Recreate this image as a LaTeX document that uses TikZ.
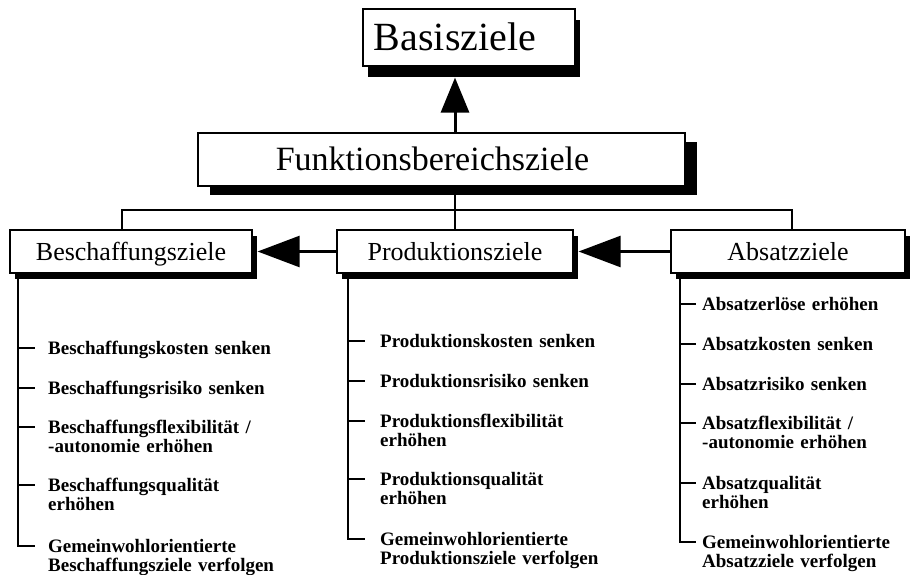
\documentclass[tikz,border=0pt]{standalone}
\usepackage{fontspec}
\setmainfont{Liberation Serif}
\usepackage{tikz}
\usetikzlibrary{arrows.meta, positioning, shadows, calc}

\begin{document}
\begin{tikzpicture}[x=1pt, y=-1pt, line join=miter,
	ziel/.style={draw, line width=1.2pt, fill=white, inner sep=0pt,
		minimum height=43pt, text height=17pt, text depth=0pt,
		font=\fontsize{26}{30}\selectfont},
	schatten/.style 2 args={drop shadow={shadow xshift=#1, shadow yshift=#2,
		fill=black, draw=none, opacity=1}},
	linie/.style={line width=2pt},
	pfeil/.style={line width=2.5pt, -{Triangle[length=42pt, width=31pt]}},
	punkt/.style={anchor=base west, inner sep=0pt, text width=260pt, align=left,
		font=\fontsize{19}{19.5}\selectfont\bfseries}]
	\useasboundingbox (0,0) rectangle (912,575);

	% oberste Ebene
	\node[ziel, schatten={5pt}{-11pt}, minimum width=212pt, minimum height=57pt,
		text height=26pt, font=\fontsize{40}{42}\selectfont] (basis) at (469,37.5) {\hspace*{-28pt}Basisziele};
	\node[ziel, schatten={12pt}{-9pt}, minimum width=487pt, minimum height=53pt,
		text height=22pt, font=\fontsize{34}{38}\selectfont] (funk) at (441.5,159.5) {\hspace*{-18pt}Funktionsbereichsziele};

	% Funktionsbereiche
	\node[ziel, schatten={5pt}{-6pt}, minimum width=242pt] (besch) at (131,251.5) {Beschaffungsziele};
	\node[ziel, schatten={5pt}{-6pt}, minimum width=236pt] (prod) at (455,251.5) {Produktionsziele};
	\node[ziel, schatten={5pt}{-6pt}, minimum width=234pt] (absatz) at (788,251.5) {Absatzziele};

	% Verbindungen
	\coordinate (kl) at (122,210);
	\coordinate (kr) at (792,210);
	\draw[linie] (besch.north -| kl) -- (kl) -- (kr) -- (absatz.north -| kr);
	\draw[linie] (funk.south -| prod.north) -- (prod.north);
	\coordinate (bspitze) at ([yshift=-11pt]basis.south);
	\draw[line width=3pt, -{Triangle[length=35pt, width=28pt]}] (funk.north -| prod.north) -- (bspitze -| prod.north);
	\draw[pfeil] (prod.west) -- ([xshift=5pt]besch.east);
	\draw[pfeil] (absatz.west) -- ([xshift=5pt]prod.east);

	% Beschaffung
	\foreach \t/\yy [count=\i] in {
		{Beschaffungskosten senken}/348,
		{Beschaffungsrisiko senken}/388,
		{Beschaffungsflexibilität /\\-autonomie erhöhen}/427,
		{Beschaffungsqualität\\erhöhen}/485,
		{Gemeinwohlorientierte\\Beschaffungsziele verfolgen}/546}{
		\coordinate (bt\i) at (18,\yy);
		\node[punkt] (bp\i) at ([xshift=30pt, yshift=-6pt]bt\i) {\t};
		\draw[linie] (bt\i) -- ++(17,0);
	}
	\draw[linie] (besch.south -| bt1) -- (bt5) -- ++(17,0);

	% Produktion
	\foreach \t/\yy [count=\i] in {
		{Produktionskosten senken}/341,
		{Produktionsrisiko senken}/381,
		{Produktionsflexibilität\\erhöhen}/421,
		{Produktionsqualität\\erhöhen}/479,
		{Gemeinwohlorientierte\\Produktionsziele verfolgen}/539}{
		\coordinate (pt\i) at (348,\yy);
		\node[punkt] (pp\i) at ([xshift=32pt, yshift=-6pt]pt\i) {\t};
		\draw[linie] (pt\i) -- ++(17,0);
	}
	\draw[linie] (prod.south -| pt1) -- (pt5) -- ++(17,0);

	% Absatz
	\foreach \t/\yy [count=\i] in {
		{Absatzerlöse erhöhen}/304,
		{Absatzkosten senken}/344,
		{Absatzrisiko senken}/384,
		{Absatzflexibilität /\\-autonomie erhöhen}/423,
		{Absatzqualität\\erhöhen}/483,
		{Gemeinwohlorientierte\\Absatzziele verfolgen}/542}{
		\coordinate (at\i) at (680,\yy);
		\node[punkt] (ap\i) at ([xshift=22pt, yshift=-6pt]at\i) {\t};
		\draw[linie] (at\i) -- ++(16,0);
	}
	\draw[linie] (absatz.south -| at1) -- (at6) -- ++(16,0);
\end{tikzpicture}
\end{document}
